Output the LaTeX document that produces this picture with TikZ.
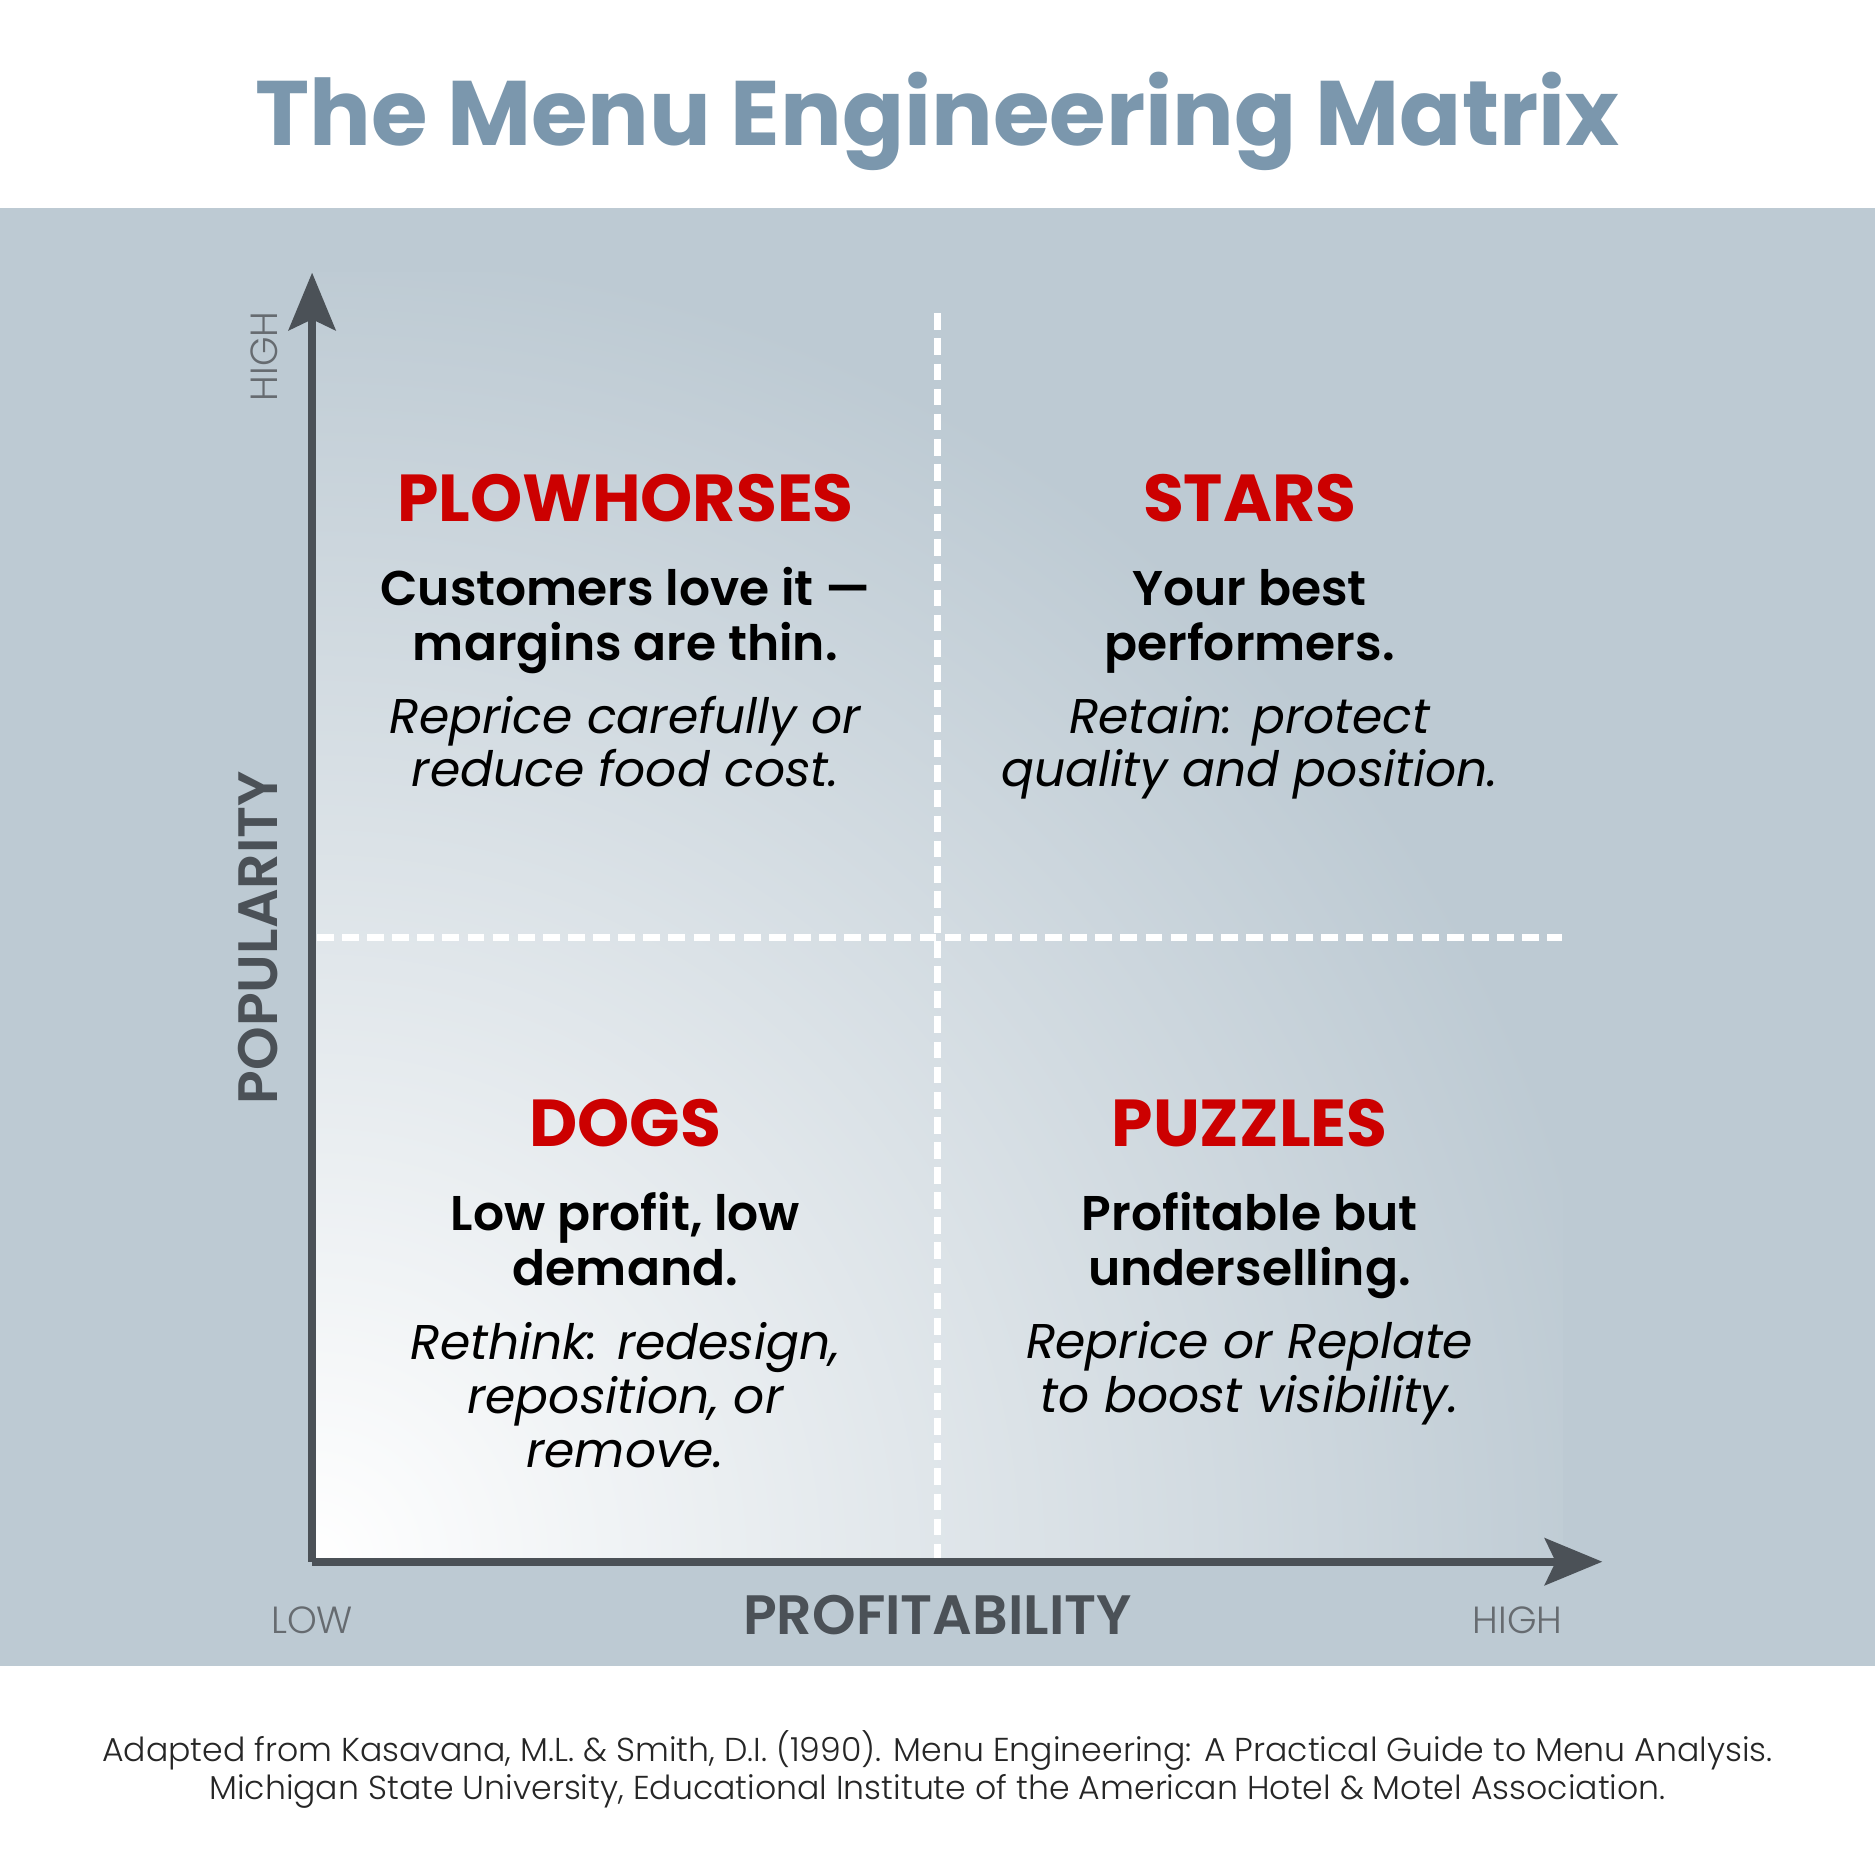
\documentclass[tikz,border=0pt]{standalone}
\usepackage{fontspec}
\setmainfont{Poppins}
\newfontfamily\headfont{Poppins Bold}
\newfontfamily\semifont{Poppins SemiBold}
\newfontfamily\lightfont{Poppins Light}
\usetikzlibrary{arrows.meta,positioning}
\definecolor{band}{HTML}{BDCAD3}
\definecolor{titleblue}{HTML}{7B97AD}
\definecolor{axisgray}{HTML}{4B5157}
\definecolor{menured}{HTML}{CC0000}

\begin{document}
\begin{tikzpicture}[x=0.25mm,y=-0.25mm,
  axis/.style={draw=axisgray,line width=1.75mm,-{Stealth[length=12mm,width=9.75mm,inset=2.25mm]}},
  divider/.style={draw=white,line width=1.5mm,dash pattern=on 3.5mm off 1.75mm},
  headlbl/.style={anchor=base,inner sep=0pt,text=menured,font=\headfont\fontsize{39.5}{42}\selectfont},
  bodytxt/.style={anchor=base,inner sep=0pt,align=center,font=\semifont\fontsize{29}{32.7}\selectfont},
  notetxt/.style={anchor=base,inner sep=0pt,align=center,font=\itshape\fontsize{29}{32}\selectfont},
  endlbl/.style={anchor=base,inner sep=0pt,text=axisgray!85,font=\lightfont\fontsize{22.5}{25}\selectfont},
  axislbl/.style={anchor=base,inner sep=0pt,text=axisgray,font=\semifont\fontsize{33}{36}\selectfont}]
\useasboundingbox (0,0) rectangle (1568,1568);
\fill[white] (0,0) rectangle (1568,1568);
\fill[band] (0,174) rectangle (1568,1393);
% soft light corner of the plot area
\begin{scope}
\clip (261,228) rectangle (1307,1306);
\shade[inner color=white,outer color=band] (261,1306) circle[radius=1100];
\end{scope}
\node[anchor=base,inner sep=0pt,text=titleblue,font=\headfont\fontsize{54.5}{60}\selectfont] (title) at (784,122) {The Menu Engineering Matrix};
\coordinate (origin) at (261,1306);
\coordinate (ytip) at (261,228);
\coordinate (xtip) at (1340,1306);
\coordinate (vtop) at (784,262);
\coordinate (vbot) at (784,1306);
\coordinate (hleft) at (265,784);
\coordinate (hright) at (1306,784);
\draw[divider] (vtop)--(vbot);
\draw[divider] (hleft)--(hright);
\draw[axis] (origin)--(ytip);
\draw[axis] (origin)--(xtip);
% base of a multi-line node = baseline of its last line
\foreach \n/\cx/\cy/\nl/\head/\body/\note in {
  plow/523/436/222/PLOWHORSES/{Customers love it —\\margins are thin.}/{Reprice carefully or\\reduce food cost.},
  stars/1045/436/222/STARS/{Your best\\performers.}/{Retain: protect\\quality and position.},
  dogs/523/959/268/DOGS/{Low profit, low\\demand.}/{Rethink: redesign,\\reposition, or\\remove.},
  puzzles/1045/959/222/PUZZLES/{Profitable but\\underselling.}/{Reprice or Replate\\to boost visibility.}}
{
  \node[headlbl] (\n) at (\cx,\cy) {\head};
  \node[bodytxt] (\n-body) at (\cx,\cy+116) {\body};
  \node[notetxt] (\n-note) at (\cx,\cy+\nl) {\note};
}
\node[endlbl] (low) at (261,1366) {LOW};
\node[endlbl] (highx) at (1269,1366) {HIGH};
\node[axislbl] (profit) at (784,1367) {PROFITABILITY};
\node[endlbl,rotate=90] (highy) at (232,298) {HIGH};
\node[axislbl,rotate=90] (popular) at (232,784) {POPULARITY};
\node[anchor=base,inner sep=0pt,align=center,text=black!85,font=\lightfont\fontsize{19.7}{23}\selectfont] (source) at (784,1505)
  {Adapted from Kasavana, M.L. \& Smith, D.I. (1990). Menu Engineering: A Practical Guide to Menu Analysis.\\Michigan State University, Educational Institute of the American Hotel \& Motel Association.};
\end{tikzpicture}
\end{document}
